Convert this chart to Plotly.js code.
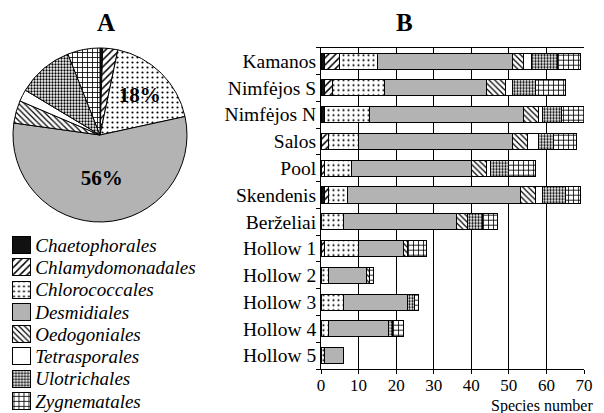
<!DOCTYPE html>
<html><head><meta charset="utf-8">
<script src="https://cdn.plot.ly/plotly-3.0.1.min.js"></script>
<style>html,body{margin:0;padding:0;background:#fff}</style>
</head><body><div id="chart" style="width:604px;height:413px"></div>
<script>
// ---- data ----
const orders = ['Chaetophorales','Chlamydomonadales','Chlorococcales','Desmidiales','Oedogoniales','Tetrasporales','Ulotrichales','Zygnematales'];
const sites = ['Kamanos','Nimfėjos S','Nimfėjos N','Salos','Pool','Skendenis','Berželiai','Hollow 1','Hollow 2','Hollow 3','Hollow 4','Hollow 5'];
const chaetophorales    = [1,1,1,0,0,1,0,0,0,0,0,0];
const chlamydomonadales = [4,2,0,2,1,1,0,1,0,0,0,0];
const chlorococcales    = [10,14,12,8,7,5,6,9,2,6,2,1];
const desmidiales       = [36,27,41,41,32,46,30,12,10,17,16,5];
const oedogoniales      = [3,5,4,4,4,4,3,1,1,0,0,0];
const tetrasporales     = [2,2,1,3,1,2,0,0,0,0,0,0];
const ulotrichales      = [7,6,5,4,5,6,4,0,0,2,1,0];
const zygnematales      = [6,8,6,6,7,4,4,5,1,1,3,0];
const pieShares = [0.5, 2.8, 18.3, 55.6, 4.2, 2.2, 10.4, 6.0];
const xTicks = [0,10,20,30,40,50,60,70];

// ---- styles ----
const fills  = ['#111111','#ffffff','#ffffff','#b3b3b3','#ffffff','#ffffff','#ffffff','#ffffff'];
const shapes = ['', '/', '.', '', '\\', '', '.', '+'];
const psize  = [8, 5, 5, 8, 4, 8, 3, 5];
const psolid = [0.3, 0.3, 0.15, 0.3, 0.3, 0.3, 0.45, 0.3];
const serif = '"Liberation Serif", "Times New Roman", serif';

const series = [chaetophorales, chlamydomonadales, chlorococcales, desmidiales, oedogoniales, tetrasporales, ulotrichales, zygnematales];

function markerFor(i) {
  return {color: fills[i], line: {color: '#000', width: 1},
    pattern: {shape: shapes[i], fgcolor: '#000', bgcolor: fills[i], size: psize[i], solidity: psolid[i]}};
}

const traces = series.map((vals, i) => ({
  type: 'bar', orientation: 'h', x: vals, y: sites, name: orders[i],
  xaxis: 'x', yaxis: 'y', showlegend: false, width: 0.6, hoverinfo: 'x+name',
  marker: markerFor(i)
}));

// legend swatches: one small bar per order
orders.forEach((name, i) => traces.push({
  type: 'bar', orientation: 'h', y: [name], x: [1], name: name,
  xaxis: 'x2', yaxis: 'y2', showlegend: false, width: 0.76, hoverinfo: 'name',
  marker: markerFor(i)
}));

// pie
traces.push({
  type: 'pie', values: pieShares, labels: orders, sort: false, direction: 'clockwise', rotation: 0,
  text: pieShares.map(v => v > 15 ? Math.round(v) + '%' : ''), textinfo: 'text',
  textposition: 'inside', insidetextorientation: 'horizontal',
  textfont: {family: serif, size: 21, color: '#000', weight: 'bold'},
  domain: {x: [0.0215, 0.3096], y: [0.4625, 0.8838]}, showlegend: false,
  marker: {colors: fills, line: {color: '#000', width: 1},
    pattern: {shape: shapes, fgcolor: '#000', bgcolor: fills, size: psize, solidity: psolid}}
});

const layout = {
  width: 604, height: 413, margin: {l: 0, r: 0, t: 0, b: 0},
  paper_bgcolor: '#fff', plot_bgcolor: '#fff',
  barmode: 'stack', bargap: 0.4,
  font: {family: serif, color: '#000'},
  xaxis: {domain: [0.5315, 0.9669], range: [0, 70], tickvals: xTicks, ticktext: xTicks.map(String),
    showgrid: true, gridcolor: '#000', gridwidth: 1, zeroline: false,
    showline: true, mirror: true, linecolor: '#000', linewidth: 1, ticks: 'outside', ticklen: 4, tickcolor: '#000',
    ticklabelstandoff: -3,
    tickfont: {family: serif, size: 17, color: '#000'}, anchor: 'y', fixedrange: true},
  yaxis: {domain: [0.1065, 0.8845], autorange: 'reversed', showgrid: false, zeroline: false,
    showline: true, linecolor: '#000', linewidth: 1, ticks: 'outside', ticklen: 4, tickcolor: '#000',
    tickson: 'boundaries', tickmode: 'array', tickvals: sites, ticktext: sites,
    tickfont: {family: serif, size: 19.5, color: '#000'}, anchor: 'x', fixedrange: true},
  xaxis2: {domain: [0.019, 0.0517], range: [-0.06, 1.06], visible: false, anchor: 'y2', fixedrange: true},
  yaxis2: {domain: [0.002, 0.4337], autorange: 'reversed', side: 'right', showgrid: false, zeroline: false,
    showline: false, ticks: '', ticklabelstandoff: 3, tickmode: 'array', tickvals: orders, ticktext: orders,
    tickfont: {family: serif, size: 19, color: '#000', style: 'italic'}, anchor: 'x2', fixedrange: true},
  annotations: [
    {text: 'A', x: 106, y: 22, showarrow: false,
      font: {family: serif, size: 25, color: '#000', weight: 'bold'}},
    {text: 'B', x: 404, y: 22, showarrow: false,
      font: {family: serif, size: 25, color: '#000', weight: 'bold'}},
    {text: 'Species number', x: 542, y: 406, showarrow: false,
      font: {family: serif, size: 16, color: '#000'}}
  ]
};
// convert pixel positions of annotations to paper fractions
layout.annotations.forEach(a => { a.xref = 'paper'; a.yref = 'paper'; a.x = a.x / 604; a.y = 1 - a.y / 413; a.xanchor = 'center'; a.yanchor = 'middle'; });

Plotly.newPlot('chart', traces, layout, {staticPlot: true});
</script>
</body></html>
